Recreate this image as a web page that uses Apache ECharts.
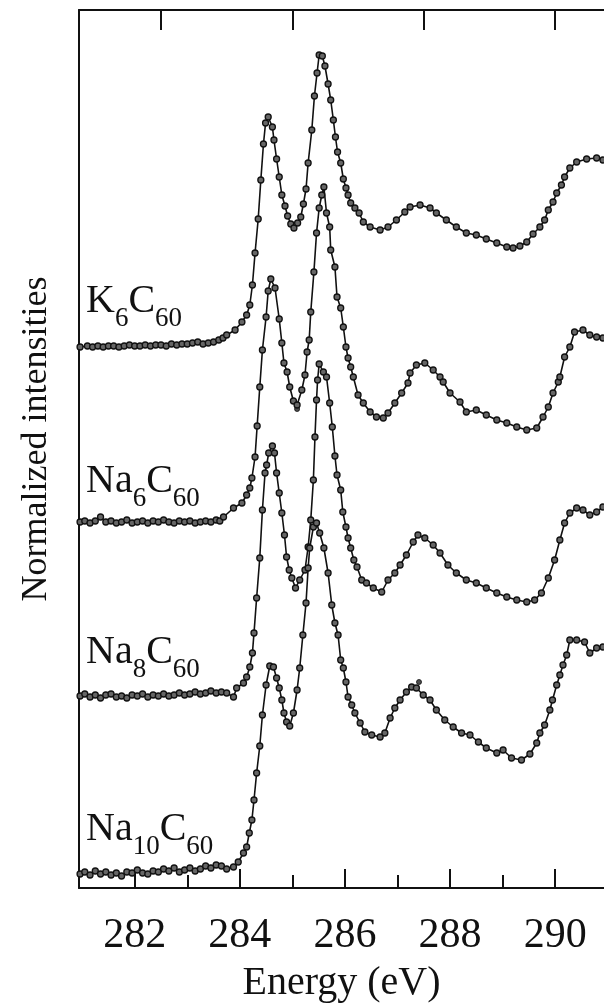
<!DOCTYPE html>
<html>
<head>
<meta charset="utf-8">
<script src="https://cdn.jsdelivr.net/npm/echarts@6/dist/echarts.min.js"></script>
<style>
  html, body {margin:0;padding:0;background:#fff;}
  #chart {width:604px;height:1007px;}
</style>
</head>
<body>
<div id="chart"></div>
<script>
// energy (eV), intensity (stacked, arbitrary units)
var k6c60 = [
  [280.96,54.1],[281.1,54.2],[281.2,54.1],[281.3,54.2],[281.4,54.1],[281.5,54.2],[281.6,54.2],[281.7,54.1],
  [281.8,54.2],[281.9,54.3],[282.0,54.2],[282.1,54.2],[282.2,54.3],[282.3,54.2],[282.4,54.3],[282.5,54.3],
  [282.6,54.2],[282.7,54.4],[282.8,54.3],[282.9,54.4],[283.0,54.4],[283.1,54.5],[283.2,54.6],[283.3,54.4],
  [283.4,54.5],[283.5,54.6],[283.6,54.8],[283.68,55.0],[283.75,55.3],[283.91,55.8],[284.04,56.6],[284.13,57.3],
  [284.19,58.3],[284.24,60.3],[284.29,63.5],[284.35,66.9],[284.40,70.8],[284.45,74.4],[284.49,76.5],[284.54,77.1],
  [284.62,76.1],[284.65,74.8],[284.70,72.9],[284.75,71.1],[284.80,69.3],[284.86,68.2],[284.91,67.2],[284.97,66.4],
  [285.03,66.0],[285.10,66.5],[285.16,67.1],[285.21,68.4],[285.26,69.9],[285.30,72.5],[285.37,75.8],[285.42,79.2],
  [285.47,81.5],[285.51,83.3],[285.57,83.2],[285.62,82.2],[285.68,80.4],[285.73,78.8],[285.78,76.8],[285.82,75.1],
  [285.86,73.6],[285.92,72.5],[285.97,70.9],[286.02,70.0],[286.06,69.3],[286.11,68.5],[286.19,68.0],[286.27,67.5],
  [286.35,66.6],[286.48,66.1],[286.67,65.8],[286.82,66.1],[286.98,66.8],[287.14,67.6],[287.24,68.1],[287.43,68.3],
  [287.62,68.0],[287.74,67.5],[287.93,66.8],[288.12,66.1],[288.31,65.5],[288.50,65.3],[288.69,64.9],[288.89,64.5],
  [289.08,64.1],[289.20,64.0],[289.33,64.2],[289.46,64.6],[289.58,65.4],[289.71,66.1],[289.80,66.8],[289.87,67.8],
  [289.96,68.6],[290.03,69.5],[290.12,70.3],[290.18,71.1],[290.28,72.0],[290.41,72.6],[290.60,72.9],[290.79,73.0],
  [290.91,72.8]
];
var na6c60 = [
  [280.96,36.6],[281.05,36.7],[281.15,36.5],[281.25,36.7],[281.35,37.1],[281.45,36.6],[281.55,36.7],[281.65,36.5],
  [281.75,36.6],[281.85,36.8],[281.95,36.5],[282.05,36.6],[282.15,36.7],[282.25,36.5],[282.35,36.7],[282.45,36.6],
  [282.55,36.8],[282.65,36.6],[282.75,36.5],[282.85,36.7],[282.95,36.6],[283.05,36.7],[283.15,36.5],[283.25,36.6],
  [283.35,36.7],[283.45,36.6],[283.55,36.8],[283.62,36.7],[283.69,37.1],[283.88,38.0],[284.04,38.5],[284.13,39.3],
  [284.19,40.0],[284.23,41.0],[284.29,43.1],[284.33,46.2],[284.38,50.1],[284.43,53.8],[284.50,57.1],[284.54,59.7],
  [284.59,60.9],[284.67,60.0],[284.75,56.9],[284.80,54.5],[284.84,52.5],[284.90,51.6],[284.95,50.1],[285.02,48.7],
  [285.09,48.3],[285.18,49.8],[285.24,51.3],[285.28,53.6],[285.32,54.8],[285.35,57.6],[285.41,61.6],[285.46,65.5],
  [285.51,68.0],[285.56,69.3],[285.60,70.1],[285.65,67.5],[285.71,66.1],[285.73,63.8],[285.81,62.1],[285.85,59.1],
  [285.92,58.0],[285.97,56.1],[286.02,54.1],[286.06,53.0],[286.11,52.1],[286.16,51.1],[286.25,49.3],[286.35,48.5],
  [286.48,47.6],[286.60,47.1],[286.73,47.0],[286.82,47.5],[286.95,48.5],[287.08,49.5],[287.20,50.5],[287.24,51.5],
  [287.36,52.3],[287.52,52.5],[287.68,51.8],[287.81,51.1],[287.87,50.6],[288.00,49.5],[288.19,48.6],[288.31,47.6],
  [288.50,47.8],[288.69,47.3],[288.89,46.8],[289.08,46.5],[289.27,46.1],[289.46,45.8],[289.65,46.0],[289.77,47.1],
  [289.87,48.1],[289.96,49.5],[290.06,50.6],[290.09,51.1],[290.18,53.1],[290.28,54.1],[290.37,55.6],[290.53,55.8],
  [290.66,55.3],[290.79,55.1],[290.91,55.0]
];
var na8c60 = [
  [280.96,19.2],[281.05,19.4],[281.15,19.1],[281.25,19.3],[281.35,19.0],[281.45,19.3],[281.55,19.4],[281.65,19.1],
  [281.75,19.2],[281.85,19.0],[281.95,19.3],[282.05,19.2],[282.15,19.4],[282.25,19.1],[282.35,19.3],[282.45,19.2],
  [282.55,19.4],[282.65,19.2],[282.75,19.3],[282.85,19.5],[282.95,19.3],[283.05,19.4],[283.15,19.6],[283.25,19.4],
  [283.35,19.5],[283.45,19.7],[283.55,19.5],[283.65,19.6],[283.75,19.5],[283.88,19.1],[283.94,20.0],[284.07,20.5],
  [284.13,21.1],[284.19,22.1],[284.24,23.5],[284.27,25.5],[284.32,29.0],[284.38,33.0],[284.43,37.8],[284.48,41.5],
  [284.51,42.3],[284.55,43.5],[284.62,44.2],[284.66,43.5],[284.70,41.5],[284.75,39.5],[284.80,37.5],[284.85,35.3],
  [284.89,33.1],[284.94,31.8],[284.99,31.0],[285.06,30.0],[285.14,30.8],[285.24,31.8],[285.30,34.1],[285.35,36.8],
  [285.40,40.8],[285.43,45.1],[285.46,48.8],[285.48,50.8],[285.51,52.4],[285.59,51.6],[285.65,51.1],[285.71,48.5],
  [285.76,46.1],[285.81,43.2],[285.85,41.3],[285.92,39.8],[285.96,37.6],[286.02,36.1],[286.06,35.0],[286.11,34.0],
  [286.17,32.8],[286.23,32.1],[286.32,30.8],[286.41,30.5],[286.54,30.0],[286.70,29.6],[286.82,30.8],[286.95,31.5],
  [287.05,32.3],[287.17,33.3],[287.30,34.6],[287.39,35.3],[287.52,35.0],[287.68,34.3],[287.81,33.5],[287.96,32.3],
  [288.12,31.5],[288.31,30.8],[288.50,30.5],[288.69,30.0],[288.89,29.5],[289.08,29.1],[289.27,28.8],[289.46,28.6],
  [289.61,28.8],[289.74,29.5],[289.87,31.0],[289.99,32.8],[290.09,34.8],[290.18,36.5],[290.28,37.5],[290.41,38.0],
  [290.53,37.8],[290.66,37.3],[290.79,37.6],[290.91,38.1]
];
var na10c60 = [
  [280.96,1.4],[281.05,1.6],[281.15,1.3],[281.25,1.7],[281.35,1.4],[281.45,1.6],[281.55,1.3],[281.65,1.5],
  [281.75,1.2],[281.85,1.6],[281.95,1.5],[282.05,1.8],[282.15,1.5],[282.25,1.4],[282.35,1.7],[282.45,1.6],
  [282.55,1.9],[282.65,1.7],[282.75,2.0],[282.85,1.6],[282.95,1.8],[283.05,2.0],[283.15,1.7],[283.25,1.9],
  [283.35,2.2],[283.45,2.0],[283.55,2.3],[283.65,2.2],[283.75,1.9],[283.88,2.1],[283.97,2.6],[284.07,3.5],
  [284.13,4.1],[284.18,5.5],[284.23,6.8],[284.27,8.8],[284.32,11.5],[284.38,14.2],[284.43,17.3],[284.50,20.3],
  [284.57,22.2],[284.64,22.1],[284.70,21.0],[284.75,20.0],[284.80,18.8],[284.84,17.5],[284.89,16.6],[284.95,16.2],
  [285.02,17.5],[285.09,19.8],[285.14,22.0],[285.20,25.3],[285.26,28.5],[285.30,32.0],[285.33,34.0],[285.40,36.1],
  [285.46,36.5],[285.52,35.5],[285.60,34.0],[285.68,31.5],[285.75,28.3],[285.81,26.5],[285.87,25.3],[285.92,22.8],
  [285.97,22.0],[286.02,20.6],[286.06,19.1],[286.13,18.3],[286.19,17.5],[286.29,16.5],[286.38,15.6],[286.51,15.3],
  [286.67,15.1],[286.76,15.5],[286.86,17.0],[286.95,18.0],[287.05,18.8],[287.17,19.6],[287.27,20.1],[287.36,20.0],
  [287.49,19.3],[287.62,18.8],[287.74,17.8],[287.90,16.8],[288.06,16.1],[288.22,15.5],[288.38,15.3],[288.54,14.6],
  [288.69,14.0],[288.89,13.5],[289.01,13.8],[289.17,13.0],[289.36,12.8],[289.52,13.4],[289.65,14.5],[289.71,15.5],
  [289.80,16.3],[289.90,17.8],[289.95,18.8],[290.03,20.3],[290.09,21.3],[290.15,22.3],[290.22,23.3],[290.28,24.8],
  [290.41,24.8],[290.56,24.6],[290.66,23.5],[290.79,24.0],[290.91,24.1]
];
// stray points that sit off the traces
var strayPoints = [[285.09,47.9],[287.41,20.6]];

var majorTicks = [282, 284, 286, 288, 290];
var minorTicks = [283, 285, 287, 289];
var topTicks = [282.5, 285, 287.5, 290];

var serif = 'Liberation Serif';
var labelRich = {
  m: {fontFamily:serif, fontSize:40, fontWeight:'normal', lineHeight:40, verticalAlign:'top', color:'#111'},
  s: {fontFamily:serif, fontSize:27, fontWeight:'normal', lineHeight:51, verticalAlign:'bottom', color:'#111'}
};
function sampleLabel(text, top) {
  return {text:text, left:86, top:top, padding:0,
    textStyle:{fontFamily:serif, fontWeight:'normal', color:'#111', rich:labelRich}};
}

var myChart = echarts.init(document.getElementById('chart'));
var lineSeries = function(name, data) {
  return {
    name: name,
    type: 'line',
    data: data,
    symbol: 'circle',
    symbolSize: 6,
    lineStyle: {color:'#111', width:1.6},
    itemStyle: {color:'#666', borderColor:'#111', borderWidth:1.3},
    z: 3
  };
};
var option = {
  animation: false,
  backgroundColor: '#fff',
  title: [
    sampleLabel('{m|K}{s|6}{m|C}{s|60}', 281.5),
    sampleLabel('{m|Na}{s|6}{m|C}{s|60}', 461.5),
    sampleLabel('{m|Na}{s|8}{m|C}{s|60}', 632.5),
    sampleLabel('{m|Na}{s|10}{m|C}{s|60}', 809)
  ],
  grid: {left:79, right:0, top:10, bottom:119, containLabel:false, outerBoundsMode:'none'},
  xAxis: [
    {
      type:'value', position:'bottom', min:280.94, max:290.93,
      axisLine:{onZero:false, lineStyle:{color:'#111', width:2}},
      axisTick:{inside:true, length:19, customValues:majorTicks, lineStyle:{color:'#111', width:2}},
      axisLabel:{customValues:majorTicks, fontFamily:serif, fontSize:42, color:'#111', margin:27},
      splitLine:{show:false},
      name:'Energy (eV)', nameLocation:'middle', nameGap:75,
      nameTextStyle:{fontFamily:serif, fontSize:40, color:'#111'}
    },
    {
      type:'value', position:'bottom', min:280.94, max:290.93,
      axisLine:{show:false, onZero:false},
      axisTick:{inside:true, length:13, customValues:minorTicks, lineStyle:{color:'#111', width:2}},
      axisLabel:{show:false},
      splitLine:{show:false}
    },
    {
      type:'value', position:'top', min:280.94, max:290.93,
      axisLine:{onZero:false, lineStyle:{color:'#111', width:2}},
      axisTick:{inside:true, length:20, customValues:topTicks, lineStyle:{color:'#111', width:2}},
      axisLabel:{show:false},
      splitLine:{show:false}
    }
  ],
  yAxis: {
    type:'value', min:0, max:87.8,
    axisLine:{show:true, onZero:false, lineStyle:{color:'#111', width:2}},
    axisTick:{show:false},
    axisLabel:{show:false},
    splitLine:{show:false},
    name:'Normalized intensities', nameLocation:'middle', nameGap:24,
    nameTextStyle:{fontFamily:serif, fontSize:36, color:'#111', padding:[0, 0, 0, 20]}
  },
  series: [
    lineSeries('K6C60', k6c60),
    lineSeries('Na6C60', na6c60),
    lineSeries('Na8C60', na8c60),
    lineSeries('Na10C60', na10c60),
    {
      type:'scatter', data:strayPoints, symbol:'circle', symbolSize:5,
      itemStyle:{color:'#222', borderColor:'#111', borderWidth:1}
    }
  ]
};
myChart.setOption(option);
</script>
</body>
</html>
